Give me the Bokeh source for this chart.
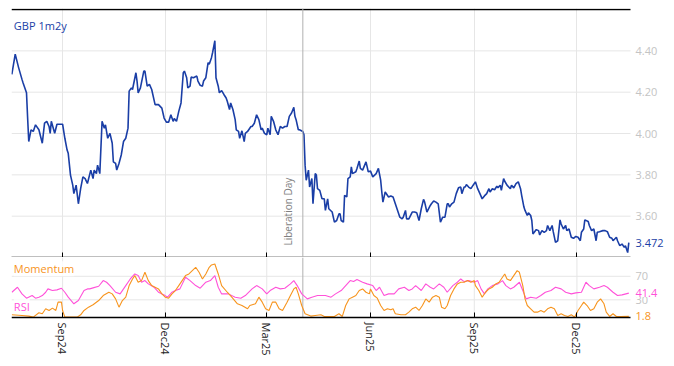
import pandas as pd
from bokeh.plotting import figure
from bokeh.layouts import column
from bokeh.models import (ColumnDataSource, Span, Label, MonthsTicker, DatetimeAxis,
                          DatetimeTickFormatter, Range1d)
from bokeh.embed import file_html
from bokeh.resources import INLINE

FONT = "Open Sans"
BLUE = "#1a3ea6"
ORANGE = "#f7941d"
PINK = "#ff52d9"
GRID = "#e6e6e6"
TICKGREY = "#c4c4c4"
EVENTGREY = "#b0b0b0"

series_name = "GBP 1m2y"
event_date = "2025-04-02"
event_label = "Liberation Day"
x_tick_months = [2, 5, 8, 11]          # Mar, Jun, Sep, Dec (0-based months)
x_tick_dates = ["2024-09-01", "2024-12-01", "2025-03-01", "2025-06-01", "2025-09-01", "2025-12-01"]
main_y_ticks = [3.6, 3.8, 4.0, 4.2, 4.4]
ind_y_ticks = [30, 70]

gbp_dates = [
    "2024-07-18", "2024-07-21", "2024-07-24", "2024-07-27", "2024-07-28", "2024-07-31", "2024-08-01", "2024-08-02",
    "2024-08-04", "2024-08-06", "2024-08-08", "2024-08-11", "2024-08-14", "2024-08-16", "2024-08-18", "2024-08-20",
    "2024-08-21", "2024-08-22", "2024-08-25", "2024-08-27", "2024-08-30", "2024-09-01", "2024-09-03", "2024-09-05",
    "2024-09-06", "2024-09-08", "2024-09-10", "2024-09-11", "2024-09-13", "2024-09-15", "2024-09-17", "2024-09-19",
    "2024-09-21", "2024-09-23", "2024-09-26", "2024-09-28", "2024-09-29", "2024-10-01", "2024-10-02", "2024-10-04",
    "2024-10-06", "2024-10-08", "2024-10-09", "2024-10-11", "2024-10-13", "2024-10-15", "2024-10-16", "2024-10-18",
    "2024-10-19", "2024-10-21", "2024-10-23", "2024-10-25", "2024-10-27", "2024-10-29", "2024-10-30", "2024-11-01",
    "2024-11-02", "2024-11-05", "2024-11-06", "2024-11-07", "2024-11-09", "2024-11-12", "2024-11-13", "2024-11-15",
    "2024-11-17", "2024-11-19", "2024-11-22", "2024-11-25", "2024-11-28", "2024-11-30", "2024-12-02", "2024-12-04",
    "2024-12-06", "2024-12-08", "2024-12-09", "2024-12-11", "2024-12-13", "2024-12-15", "2024-12-17", "2024-12-18",
    "2024-12-20", "2024-12-21", "2024-12-23", "2024-12-24", "2024-12-26", "2024-12-29", "2024-12-30", "2025-01-01",
    "2025-01-03", "2025-01-04", "2025-01-06", "2025-01-08", "2025-01-09", "2025-01-11", "2025-01-12", "2025-01-14",
    "2025-01-15", "2025-01-17", "2025-01-18", "2025-01-20", "2025-01-22", "2025-01-24", "2025-01-25", "2025-01-27",
    "2025-01-28", "2025-01-30", "2025-02-01", "2025-02-02", "2025-02-04", "2025-02-05", "2025-02-07", "2025-02-09",
    "2025-02-10", "2025-02-12", "2025-02-15", "2025-02-16", "2025-02-18", "2025-02-20", "2025-02-22", "2025-02-24",
    "2025-02-25", "2025-02-27", "2025-03-01", "2025-03-02", "2025-03-04", "2025-03-05", "2025-03-07", "2025-03-09",
    "2025-03-11", "2025-03-13", "2025-03-15", "2025-03-17", "2025-03-19", "2025-03-21", "2025-03-23", "2025-03-25",
    "2025-03-26", "2025-03-27", "2025-03-29", "2025-03-30", "2025-04-02", "2025-04-03", "2025-04-04", "2025-04-05",
    "2025-04-07", "2025-04-08", "2025-04-10", "2025-04-11", "2025-04-13", "2025-04-14", "2025-04-15", "2025-04-17",
    "2025-04-19", "2025-04-21", "2025-04-22", "2025-04-24", "2025-04-25", "2025-04-28", "2025-04-30", "2025-05-02",
    "2025-05-04", "2025-05-05", "2025-05-06", "2025-05-08", "2025-05-09", "2025-05-11", "2025-05-12", "2025-05-14",
    "2025-05-15", "2025-05-16", "2025-05-19", "2025-05-20", "2025-05-22", "2025-05-23", "2025-05-25", "2025-05-28",
    "2025-05-30", "2025-06-01", "2025-06-03", "2025-06-06", "2025-06-08", "2025-06-10", "2025-06-11", "2025-06-12",
    "2025-06-14", "2025-06-17", "2025-06-19", "2025-06-21", "2025-06-23", "2025-06-25", "2025-06-27", "2025-06-29",
    "2025-06-30", "2025-07-02", "2025-07-03", "2025-07-05", "2025-07-08", "2025-07-10", "2025-07-12", "2025-07-14",
    "2025-07-16", "2025-07-18", "2025-07-19", "2025-07-21", "2025-07-24", "2025-07-25", "2025-07-27", "2025-07-29",
    "2025-07-31", "2025-08-02", "2025-08-04", "2025-08-06", "2025-08-08", "2025-08-09", "2025-08-10", "2025-08-12",
    "2025-08-14", "2025-08-16", "2025-08-18", "2025-08-20", "2025-08-21", "2025-08-23", "2025-08-24", "2025-08-25",
    "2025-08-27", "2025-08-29", "2025-08-31", "2025-09-02", "2025-09-04", "2025-09-06", "2025-09-08", "2025-09-10",
    "2025-09-12", "2025-09-14", "2025-09-15", "2025-09-17", "2025-09-19", "2025-09-21", "2025-09-22", "2025-09-24",
    "2025-09-25", "2025-09-27", "2025-09-28", "2025-09-30", "2025-10-03", "2025-10-04", "2025-10-06", "2025-10-08",
    "2025-10-10", "2025-10-12", "2025-10-13", "2025-10-15", "2025-10-16", "2025-10-18", "2025-10-19", "2025-10-21",
    "2025-10-22", "2025-10-23", "2025-10-26", "2025-10-28", "2025-10-29", "2025-10-31", "2025-11-02", "2025-11-04",
    "2025-11-05", "2025-11-07", "2025-11-09", "2025-11-10", "2025-11-12", "2025-11-14", "2025-11-16", "2025-11-17",
    "2025-11-19", "2025-11-21", "2025-11-22", "2025-11-24", "2025-11-26", "2025-11-28", "2025-11-30", "2025-12-02",
    "2025-12-04", "2025-12-05", "2025-12-07", "2025-12-08", "2025-12-11", "2025-12-12", "2025-12-14", "2025-12-16",
    "2025-12-18", "2025-12-19", "2025-12-21", "2025-12-24", "2025-12-26", "2025-12-28", "2025-12-30", "2026-01-01",
    "2026-01-02", "2026-01-05", "2026-01-06", "2026-01-08", "2026-01-10", "2026-01-12", "2026-01-13", "2026-01-15",
    "2026-01-16",
]
gbp_values = [
    4.286, 4.384, 4.319, 4.262, 4.245, 4.197, 4.075, 3.961,
    4.018, 4.010, 4.042, 4.018, 3.953, 4.050, 4.059, 4.034,
    4.001, 4.059, 4.001, 4.045, 4.045, 4.045, 3.977, 3.920,
    3.904, 3.799, 3.750, 3.709, 3.750, 3.660, 3.733, 3.790,
    3.782, 3.758, 3.823, 3.782, 3.823, 3.806, 3.847, 3.806,
    4.059, 4.026, 4.042, 3.977, 4.001, 3.953, 3.863, 3.855,
    3.823, 3.855, 3.896, 3.961, 3.977, 4.026, 4.205, 4.221,
    4.213, 4.294, 4.254, 4.197, 4.221, 4.302, 4.302, 4.229,
    4.238, 4.213, 4.140, 4.140, 4.123, 4.075, 4.055, 4.055,
    4.091, 4.059, 4.072, 4.059, 4.107, 4.148, 4.294, 4.302,
    4.270, 4.221, 4.229, 4.273, 4.270, 4.278, 4.254, 4.233,
    4.229, 4.254, 4.270, 4.343, 4.335, 4.367, 4.392, 4.449,
    4.270, 4.229, 4.197, 4.208, 4.189, 4.172, 4.156, 4.116,
    4.148, 4.116, 4.067, 4.018, 4.010, 3.977, 4.013, 3.961,
    4.001, 4.010, 4.034, 4.034, 4.050, 4.091, 4.067, 4.018,
    4.026, 4.001, 3.994, 4.026, 3.994, 4.083, 4.059, 4.018,
    3.994, 4.034, 4.026, 4.034, 4.034, 4.083, 4.099, 4.127,
    4.083, 4.067, 4.018, 4.018, 4.010, 3.994, 3.847, 3.774,
    3.823, 3.741, 3.782, 3.660, 3.806, 3.799, 3.733, 3.725,
    3.684, 3.684, 3.628, 3.684, 3.636, 3.620, 3.571, 3.579,
    3.611, 3.611, 3.579, 3.571, 3.701, 3.693, 3.782, 3.790,
    3.839, 3.806, 3.815, 3.831, 3.867, 3.831, 3.823, 3.863,
    3.815, 3.818, 3.790, 3.806, 3.831, 3.774, 3.717, 3.668,
    3.717, 3.693, 3.698, 3.693, 3.660, 3.628, 3.595, 3.587,
    3.595, 3.628, 3.587, 3.587, 3.620, 3.620, 3.616, 3.579,
    3.636, 3.681, 3.668, 3.620, 3.652, 3.660, 3.673, 3.668,
    3.660, 3.571, 3.595, 3.595, 3.660, 3.660, 3.644, 3.660,
    3.668, 3.709, 3.737, 3.741, 3.709, 3.741, 3.741, 3.753,
    3.741, 3.733, 3.750, 3.766, 3.733, 3.709, 3.684, 3.698,
    3.709, 3.733, 3.717, 3.733, 3.728, 3.745, 3.738, 3.750,
    3.725, 3.782, 3.769, 3.750, 3.733, 3.750, 3.737, 3.758,
    3.766, 3.733, 3.701, 3.644, 3.628, 3.603, 3.616, 3.603,
    3.579, 3.514, 3.535, 3.530, 3.509, 3.530, 3.522, 3.530,
    3.555, 3.530, 3.555, 3.525, 3.473, 3.481, 3.582, 3.562,
    3.538, 3.555, 3.530, 3.538, 3.498, 3.493, 3.502, 3.498,
    3.481, 3.522, 3.538, 3.582, 3.574, 3.555, 3.530, 3.538,
    3.481, 3.522, 3.525, 3.530, 3.530, 3.525, 3.498, 3.493,
    3.481, 3.498, 3.481, 3.457, 3.465, 3.449, 3.457, 3.424,
    3.472,
]

rsi_dates = [
    "2024-07-18", "2024-07-23", "2024-07-27", "2024-07-31", "2024-08-05", "2024-08-08", "2024-08-11", "2024-08-14",
    "2024-08-17", "2024-08-19", "2024-08-23", "2024-08-27", "2024-08-31", "2024-09-03", "2024-09-06", "2024-09-11",
    "2024-09-15", "2024-09-20", "2024-09-23", "2024-09-25", "2024-09-28", "2024-10-03", "2024-10-07", "2024-10-10",
    "2024-10-13", "2024-10-18", "2024-10-22", "2024-10-27", "2024-10-31", "2024-11-04", "2024-11-07", "2024-11-10",
    "2024-11-13", "2024-11-16", "2024-11-21", "2024-11-25", "2024-11-30", "2024-12-03", "2024-12-07", "2024-12-10",
    "2024-12-14", "2024-12-19", "2024-12-23", "2024-12-28", "2025-01-01", "2025-01-06", "2025-01-10", "2025-01-14",
    "2025-01-17", "2025-01-20", "2025-01-26", "2025-02-01", "2025-02-06", "2025-02-10", "2025-02-16", "2025-02-20",
    "2025-02-25", "2025-03-01", "2025-03-04", "2025-03-09", "2025-03-13", "2025-03-17", "2025-03-22", "2025-03-25",
    "2025-03-28", "2025-04-01", "2025-04-06", "2025-04-10", "2025-04-15", "2025-04-22", "2025-04-27", "2025-05-01",
    "2025-05-06", "2025-05-10", "2025-05-14", "2025-05-17", "2025-05-20", "2025-05-25", "2025-05-29", "2025-06-03",
    "2025-06-06", "2025-06-09", "2025-06-13", "2025-06-17", "2025-06-22", "2025-06-26", "2025-07-01", "2025-07-05",
    "2025-07-08", "2025-07-11", "2025-07-16", "2025-07-20", "2025-07-24", "2025-07-27", "2025-08-01", "2025-08-05",
    "2025-08-08", "2025-08-13", "2025-08-17", "2025-08-20", "2025-08-23", "2025-08-27", "2025-09-01", "2025-09-04",
    "2025-09-07", "2025-09-10", "2025-09-13", "2025-09-17", "2025-09-22", "2025-09-26", "2025-09-29", "2025-10-03",
    "2025-10-06", "2025-10-11", "2025-10-14", "2025-10-17", "2025-10-21", "2025-10-26", "2025-10-30", "2025-11-03",
    "2025-11-08", "2025-11-12", "2025-11-17", "2025-11-21", "2025-11-26", "2025-11-30", "2025-12-05", "2025-12-09",
    "2025-12-12", "2025-12-16", "2025-12-21", "2025-12-25", "2025-12-28", "2026-01-02", "2026-01-06", "2026-01-10",
    "2026-01-16",
]
rsi_values = [
    42.9, 51.4, 40.1, 32.8, 37.3, 32.8, 34.5, 37.3,
    42.9, 48.6, 45.8, 46.9, 49.7, 42.9, 34.5, 23.2,
    28.8, 45.8, 48.6, 48.6, 50.3, 53.1, 62.7, 59.9,
    54.2, 42.9, 40.1, 54.2, 65.5, 74.0, 71.2, 59.9,
    62.7, 57.1, 51.4, 42.9, 38.4, 34.5, 42.9, 45.8,
    48.6, 68.4, 62.7, 54.2, 49.7, 59.9, 62.7, 71.2,
    51.4, 40.1, 40.1, 34.5, 32.8, 37.3, 48.6, 54.2,
    48.6, 40.1, 45.8, 51.4, 48.6, 49.7, 57.1, 62.7,
    54.2, 40.1, 31.6, 34.5, 37.3, 37.3, 34.5, 40.1,
    45.8, 54.2, 62.7, 61.0, 64.4, 59.9, 57.1, 54.2,
    45.8, 51.4, 37.3, 40.1, 40.1, 48.6, 51.4, 45.8,
    48.6, 54.2, 45.8, 57.1, 51.4, 48.6, 57.1, 51.4,
    42.9, 54.2, 59.9, 65.5, 61.0, 62.7, 59.9, 62.7,
    48.6, 40.1, 48.6, 54.2, 57.1, 62.7, 54.2, 48.6,
    51.4, 59.9, 45.8, 31.6, 34.5, 32.8, 37.3, 42.9,
    45.8, 51.4, 48.6, 42.9, 40.1, 41.8, 42.9, 59.9,
    54.2, 48.6, 51.4, 54.2, 51.4, 42.9, 37.3, 38.4,
    41.4,
]

mom_dates = [
    "2024-07-18", "2024-07-27", "2024-08-02", "2024-08-06", "2024-08-11", "2024-08-14", "2024-08-17", "2024-08-20",
    "2024-08-23", "2024-08-26", "2024-08-28", "2024-08-31", "2024-09-01", "2024-09-03", "2024-09-08", "2024-09-14",
    "2024-09-17", "2024-09-20", "2024-09-24", "2024-09-28", "2024-10-03", "2024-10-07", "2024-10-12", "2024-10-15",
    "2024-10-18", "2024-10-21", "2024-10-24", "2024-10-27", "2024-10-30", "2024-11-02", "2024-11-04", "2024-11-07",
    "2024-11-10", "2024-11-13", "2024-11-16", "2024-11-19", "2024-11-22", "2024-11-25", "2024-11-28", "2024-12-01",
    "2024-12-04", "2024-12-07", "2024-12-10", "2024-12-13", "2024-12-16", "2024-12-19", "2024-12-22", "2024-12-25",
    "2024-12-28", "2024-12-31", "2025-01-03", "2025-01-06", "2025-01-09", "2025-01-11", "2025-01-14", "2025-01-17",
    "2025-01-20", "2025-01-25", "2025-01-29", "2025-02-03", "2025-02-07", "2025-02-12", "2025-02-14", "2025-02-19",
    "2025-02-22", "2025-02-25", "2025-02-28", "2025-03-03", "2025-03-06", "2025-03-09", "2025-03-12", "2025-03-15",
    "2025-03-19", "2025-03-22", "2025-03-25", "2025-03-27", "2025-03-29", "2025-04-01", "2025-04-04", "2025-04-09",
    "2025-04-13", "2025-04-18", "2025-04-21", "2025-04-24", "2025-04-30", "2025-05-04", "2025-05-07", "2025-05-10",
    "2025-05-13", "2025-05-16", "2025-05-19", "2025-05-22", "2025-05-25", "2025-05-28", "2025-05-31", "2025-06-01",
    "2025-06-04", "2025-06-07", "2025-06-10", "2025-06-13", "2025-06-16", "2025-06-19", "2025-06-21", "2025-06-23",
    "2025-06-28", "2025-07-02", "2025-07-05", "2025-07-08", "2025-07-11", "2025-07-14", "2025-07-17", "2025-07-20",
    "2025-07-23", "2025-07-26", "2025-07-29", "2025-08-01", "2025-08-03", "2025-08-06", "2025-08-08", "2025-08-11",
    "2025-08-14", "2025-08-17", "2025-08-20", "2025-08-23", "2025-08-26", "2025-08-29", "2025-09-01", "2025-09-02",
    "2025-09-05", "2025-09-08", "2025-09-11", "2025-09-14", "2025-09-17", "2025-09-20", "2025-09-23", "2025-09-26",
    "2025-09-28", "2025-09-30", "2025-10-03", "2025-10-06", "2025-10-09", "2025-10-11", "2025-10-14", "2025-10-16",
    "2025-10-18", "2025-10-21", "2025-10-24", "2025-10-27", "2025-10-30", "2025-11-02", "2025-11-05", "2025-11-08",
    "2025-11-11", "2025-11-14", "2025-11-17", "2025-11-20", "2025-11-23", "2025-11-26", "2025-11-29", "2025-12-02",
    "2025-12-05", "2025-12-07", "2025-12-10", "2025-12-13", "2025-12-16", "2025-12-19", "2025-12-22", "2025-12-25",
    "2025-12-27", "2025-12-30", "2026-01-02", "2026-01-05", "2026-01-09", "2026-01-16",
]
mom_values = [
    4.5, 3.4, 2.3, 0.6, 7.9, 6.2, 14.7, 11.9,
    15.8, 11.9, 26.0, 26.0, 11.9, 0.6, 0.6, 0.6,
    4.5, 11.9, 17.5, 21.5, 28.8, 37.3, 42.9, 40.1,
    31.6, 17.5, 28.8, 34.5, 54.2, 65.5, 71.2, 59.9,
    62.7, 76.8, 62.7, 54.2, 51.4, 48.6, 40.1, 34.5,
    32.8, 40.1, 45.8, 54.2, 62.7, 71.2, 74.0, 79.7,
    85.3, 76.8, 65.5, 74.0, 85.3, 89.3, 91.0, 74.0,
    54.2, 42.9, 34.5, 23.2, 20.3, 14.7, 20.3, 23.2,
    34.5, 26.0, 14.7, 11.9, 26.0, 26.0, 14.7, 11.9,
    26.0, 37.3, 48.6, 51.4, 40.1, 20.3, 6.2, 2.3,
    3.4, 4.5, 1.7, 1.7, 1.7, 6.2, 1.7, 20.3,
    31.6, 34.5, 37.3, 45.8, 48.6, 42.9, 40.1, 48.6,
    37.3, 32.8, 20.3, 11.9, 14.7, 13.0, 14.7, 6.2,
    4.5, 4.5, 9.0, 14.7, 17.5, 11.9, 20.3, 31.6,
    26.0, 34.5, 37.3, 34.5, 17.5, 14.7, 20.3, 37.3,
    48.6, 57.1, 59.9, 59.9, 62.7, 59.9, 62.7, 54.2,
    45.8, 34.5, 42.9, 48.6, 51.4, 57.1, 59.9, 68.4,
    74.0, 65.5, 62.7, 71.2, 79.7, 76.8, 54.2, 31.6,
    20.3, 14.7, 9.0, 9.0, 11.9, 9.0, 14.7, 17.5,
    14.7, 3.4, 6.2, 3.4, 1.7, 4.5, 0.6, 11.9,
    20.3, 26.0, 20.3, 11.9, 14.7, 26.0, 31.6, 23.2,
    9.0, 1.7, 6.2, 1.7, 1.7, 1.8,
]

gbp = ColumnDataSource(dict(x=pd.to_datetime(gbp_dates), y=gbp_values))
rsi = ColumnDataSource(dict(x=pd.to_datetime(rsi_dates), y=rsi_values))
mom = ColumnDataSource(dict(x=pd.to_datetime(mom_dates), y=mom_values))

DAY = 86400000.0


def ms(d):
    return pd.Timestamp(d).value / 1e6


x0 = ms(gbp_dates[0])
x_last = ms(gbp_dates[-1])
ev = ms(event_date)

# plotting area spans 619 px; the frame continues 36 px further for the value labels
W, LEFT, PLOT_W = 666, 11, 619
x_start = x0 - 0.3 * DAY
plot_end = x_last + 1.5 * DAY
x_end = x_start + (plot_end - x_start) * (W - LEFT) / PLOT_W
x_range = Range1d(start=x_start, end=x_end)


def hlines(p, ys, color, width=1.0):
    n = len(ys)
    p.segment(x0=[x_start] * n, x1=[plot_end] * n, y0=ys, y1=ys,
              line_color=color, line_width=width)


def style_xaxis(ax):
    ax.ticker = MonthsTicker(months=x_tick_months)
    ax.bounds = (x_start, plot_end)
    ax.major_tick_in = 5
    ax.major_tick_out = 0
    ax.minor_tick_line_color = None
    ax.axis_line_color = "black"
    ax.axis_line_width = 1.5
    ax.major_tick_line_color = "black"


def hide_labels(ax):
    ax.major_label_text_font_size = "0px"
    ax.major_label_text_color = None
    ax.major_label_standoff = 0


def value_label(p, y, text, color, bg=None):
    kw = dict(background_fill_color=bg, background_fill_alpha=1.0) if bg else {}
    p.add_layout(Label(x=plot_end, y=y, x_offset=5, text=text, text_baseline="middle",
                       text_color=color, text_font=FONT, text_font_size="11px", **kw))


# ---------------- main panel ----------------
p1 = figure(width=W, height=257, x_axis_type="datetime", y_axis_location=None,
            x_range=x_range, y_range=Range1d(3.40, 4.605),
            output_backend="svg", toolbar_location=None,
            min_border_left=LEFT, min_border_right=0, min_border_top=8, min_border_bottom=0)
p1.outline_line_color = None
p1.ygrid.visible = False
p1.xgrid.grid_line_color = GRID
hlines(p1, main_y_ticks, GRID)
hlines(p1, [4.60], "black", 1.5)
p1.add_layout(Span(location=ev, dimension="height", line_color=EVENTGREY, line_width=1))
p1.line("x", "y", source=gbp, line_color=BLUE, line_width=1.6)

ax = p1.xaxis[0]
style_xaxis(ax)
hide_labels(ax)

for t in main_y_ticks:
    value_label(p1, t, f"{t:.2f}", TICKGREY)
value_label(p1, gbp_values[-1], f"{gbp_values[-1]:.3f}", BLUE)

p1.add_layout(Label(x=x0, y=4.522, x_offset=2, text=series_name, text_baseline="middle",
                    text_color=BLUE, text_font=FONT, text_font_size="11px"))
p1.add_layout(Label(x=ev, y=3.458, x_offset=-8, angle=1.5708, text=event_label,
                    text_align="left", text_baseline="bottom", text_color="#808080",
                    text_font=FONT, text_font_size="10px"))

# ---------------- indicator panel ----------------
IND_TOP = 102.0
IND_BOTTOM = -12.0     # a little white room under the axis so the last value label is not cut
p2 = figure(width=W, height=108, x_axis_type="datetime", y_axis_location=None,
            x_range=x_range, y_range=Range1d(IND_BOTTOM, IND_TOP),
            output_backend="svg", toolbar_location=None,
            min_border_left=LEFT, min_border_right=0, min_border_top=0, min_border_bottom=41)
p2.outline_line_color = None
p2.xgrid.visible = False
p2.ygrid.visible = False
hlines(p2, ind_y_ticks, GRID)
vt = [ms(d) for d in x_tick_dates]
p2.segment(x0=vt, x1=vt, y0=[0] * len(vt), y1=[IND_TOP] * len(vt), line_color=GRID, line_width=1)
p2.segment(x0=[ev], x1=[ev], y0=[0], y1=[IND_TOP], line_color=EVENTGREY, line_width=1)
p2.line("x", "y", source=rsi, line_color=PINK, line_width=1.1)
p2.line("x", "y", source=mom, line_color=ORANGE, line_width=1.1)

# axis line + inward ticks drawn at value 0
bx = p2.xaxis[0]
style_xaxis(bx)
bx.fixed_location = 0
hide_labels(bx)

# month labels in the border under the panel
lab_axis = DatetimeAxis(ticker=MonthsTicker(months=x_tick_months),
                        formatter=DatetimeTickFormatter(days="%b%y", months="%b%y", years="%b%y"),
                        bounds=(x_start, plot_end),
                        axis_line_color=None, major_tick_line_color=None, minor_tick_line_color=None,
                        major_tick_in=0, major_tick_out=0,
                        major_label_orientation="vertical", major_label_standoff=-2,
                        major_label_text_font=FONT, major_label_text_font_size="11px",
                        major_label_text_color="#222222")
p2.add_layout(lab_axis, "below")

for t in ind_y_ticks:
    value_label(p2, t, f"{t}", TICKGREY)
value_label(p2, rsi_values[-1], f"{rsi_values[-1]:.1f}", PINK, bg="white")
value_label(p2, mom_values[-1], f"{mom_values[-1]:.1f}", ORANGE)

p2.add_layout(Label(x=x0, y=83, x_offset=2, text="Momentum", text_baseline="middle",
                    text_color=ORANGE, text_font=FONT, text_font_size="11px",
                    background_fill_color="white", background_fill_alpha=0.8))
p2.add_layout(Label(x=x0, y=18.6, x_offset=2, text="RSI", text_baseline="middle",
                    text_color=PINK, text_font=FONT, text_font_size="11px",
                    background_fill_color="white", background_fill_alpha=0.8))

layout = column(p1, p2, spacing=0)
open("out.html", "w").write(file_html(layout, INLINE))
